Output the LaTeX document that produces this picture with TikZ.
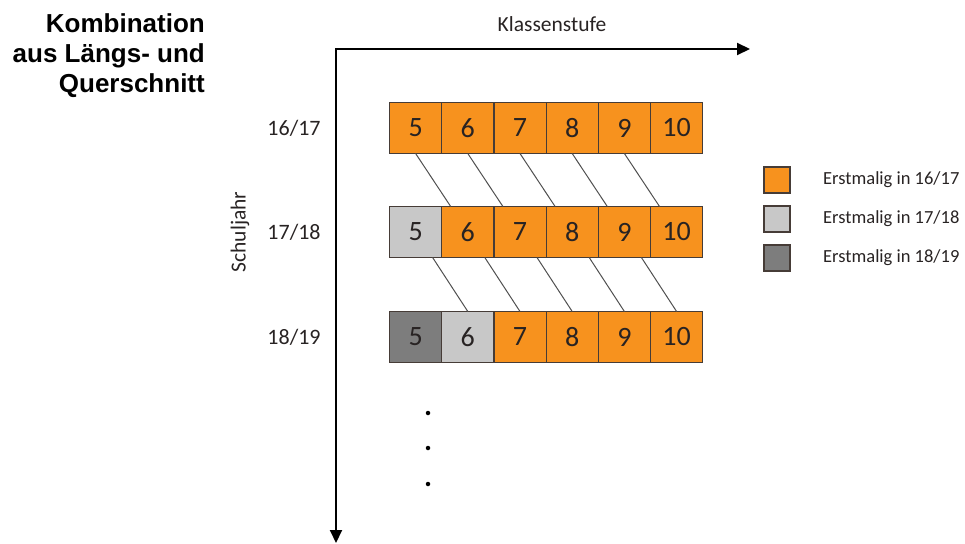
\documentclass[tikz,border=0pt]{standalone}
\usepackage{fontspec}
\setmainfont{Carlito}
\newfontfamily\titlefont{Liberation Sans}
\usetikzlibrary{arrows.meta,calc}
\definecolor{boxorange}{RGB}{247,146,30}
\definecolor{boxlight}{RGB}{200,200,200}
\definecolor{boxdark}{RGB}{125,125,125}
\definecolor{boxedge}{RGB}{70,60,55}
\definecolor{txtdark}{RGB}{40,35,35}
\definecolor{linkgray}{RGB}{80,80,80}
\tikzset{
  cell/.style={draw=boxedge, line width=1.2pt, minimum width=52.2pt, minimum height=51pt,
    inner sep=0pt, outer sep=0pt, text=txtdark, font=\fontsize{28}{32}\selectfont, anchor=west},
  orange/.style={cell, fill=boxorange},
  light/.style={cell, fill=boxlight},
  dark/.style={cell, fill=boxdark},
  legbox/.style={draw=boxedge, line width=1.2pt, minimum width=26pt, minimum height=26pt, inner sep=0pt},
  legtext/.style={anchor=west, text=txtdark, font=\fontsize{18.5}{20}\selectfont, inner sep=0pt},
  yearlab/.style={text=txtdark, font=\fontsize{22}{24}\selectfont, inner sep=0pt},
  axislab/.style={text=txtdark, font=\fontsize{21.5}{24}\selectfont, inner sep=0pt},
  axis/.style={line width=2pt, -{Triangle[length=13pt,width=12pt]}},
  link/.style={draw=linkgray, line width=1pt},
  dotmark/.style={circle, fill=black, inner sep=0pt, minimum size=4.5pt}
}
\begin{document}
\begin{tikzpicture}[x=1pt,y=-1pt]
\useasboundingbox (0,0) rectangle (965,543);
% title
\node[anchor=north east, align=right, inner sep=0pt, font=\titlefont\bfseries\fontsize{26}{30}\selectfont] (title) at (205,13)
  {Kombination\\aus Längs- und\\Querschnitt};
% axes
\coordinate (O) at (336,49);
\coordinate (xend) at (750,49);
\coordinate (yend) at (336,543);
\draw[axis] ($(O)+(-1,0)$) -- (xend);
\draw[axis] (O) -- (yend);
\node[axislab] (xlab) at (552,24) {Klassenstufe};
\node[axislab, rotate=90] (ylab) at (240,232) {Schuljahr};
% rows
\foreach \r/\y in {1/128,2/232,3/337}{
  \foreach \i in {1,...,6}{
    \coordinate (p\r-\i) at ({389.5+(\i-1)*52.2},\y);
  }
}
\node[orange] (r1-1) at (p1-1) {5};
\node[orange] (r1-2) at (p1-2) {6};
\node[orange] (r1-3) at (p1-3) {7};
\node[orange] (r1-4) at (p1-4) {8};
\node[orange] (r1-5) at (p1-5) {9};
\node[orange] (r1-6) at (p1-6) {10};
\node[light] (r2-1) at (p2-1) {5};
\node[orange] (r2-2) at (p2-2) {6};
\node[orange] (r2-3) at (p2-3) {7};
\node[orange] (r2-4) at (p2-4) {8};
\node[orange] (r2-5) at (p2-5) {9};
\node[orange] (r2-6) at (p2-6) {10};
\node[dark] (r3-1) at (p3-1) {5};
\node[light] (r3-2) at (p3-2) {6};
\node[orange] (r3-3) at (p3-3) {7};
\node[orange] (r3-4) at (p3-4) {8};
\node[orange] (r3-5) at (p3-5) {9};
\node[orange] (r3-6) at (p3-6) {10};
% year labels
\node[yearlab] (y1) at (294,128) {16/17};
\node[yearlab] (y2) at (294,232) {17/18};
\node[yearlab] (y3) at (294,337) {18/19};
% links
\foreach \i/\j in {1/2,2/3,3/4,4/5,5/6}{
  \draw[link] (r1-\i.south) -- ($(r2-\j.north west)+(9,0)$);
  \draw[link] ($(r2-\i.south)+(17,0)$) -- (r3-\j.north);
}
% legend
\node[legbox, fill=boxorange] (l1) at (777,180) {};
\node[legbox, fill=boxlight] (l2) at (777,219) {};
\node[legbox, fill=boxdark] (l3) at (777,258) {};
\node[legtext] (t1) at (823,180) {Erstmalig in 16/17};
\node[legtext] (t2) at (823,219) {Erstmalig in 17/18};
\node[legtext] (t3) at (823,258) {Erstmalig in 18/19};
% continuation dots
\node[dotmark] (d1) at (428,413) {};
\node[dotmark] (d2) at (428,448) {};
\node[dotmark] (d3) at (428,484) {};
\end{tikzpicture}
\end{document}
